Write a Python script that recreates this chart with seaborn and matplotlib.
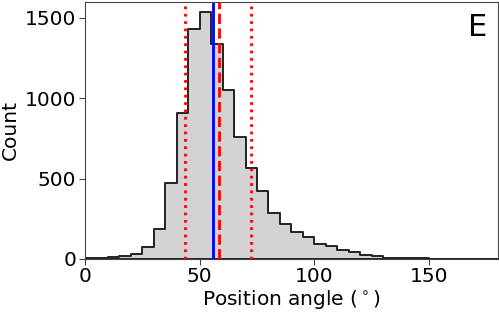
import matplotlib
matplotlib.use("Agg")
import matplotlib.pyplot as plt
import pandas as pd
import seaborn as sns

### Data ###

bin_starts = list(range(0, 180, 5))
counts = [3, 8, 12, 20, 31, 71, 187, 475, 908, 1433, 1537, 1340,
          1054, 760, 567, 425, 285, 217, 167, 133, 92, 77, 56, 42,
          25, 15, 6, 6, 3, 3, 2, 2, 1, 1, 1, 1]

median_angle = 56.0              # blue solid
mean_angle = 58.5                # red dashed
interval_angles = [43.5, 72.6]   # red dotted
panel_label = "E"

hist_df = pd.DataFrame({
    "angle": [b + 2.5 for b in bin_starts],
    "count": counts,
})

### Plot ###

fig = plt.figure(figsize=(4.99, 3.13), dpi=100)
ax = fig.add_axes([0.170, 0.173, 0.828, 0.821])

sns.histplot(
    data=hist_df,
    x="angle",
    weights="count",
    binwidth=5,
    binrange=(0, 180),
    element="step",
    color="lightgrey",
    alpha=1,
    edgecolor="#222222",
    linewidth=1.4,
    ax=ax,
)

ax.axvline(median_angle, color="blue", lw=2)
ax.axvline(mean_angle, color="red", lw=2, ls="--")
for a in interval_angles:
    ax.axvline(a, color="red", lw=2, ls=":")

ax.set_xlim(0, 180)
ax.set_ylim(0, 1600)
ax.set_xticks([0, 50, 100, 150])
ax.set_yticks([0, 500, 1000, 1500])
ax.tick_params(labelsize=14.5, direction="out", length=4, pad=2, color="#444444")
for s in ax.spines.values():
    s.set_color("#444444")

ax.set_xlabel("Position angle ($^\\circ$)", fontsize=14.5, labelpad=1)
ax.set_ylabel("Count", fontsize=14.5, labelpad=4)
ax.text(0.975, 0.955, panel_label, transform=ax.transAxes, fontsize=22,
        ha="right", va="top")

fig.savefig("out.png", dpi=100)
